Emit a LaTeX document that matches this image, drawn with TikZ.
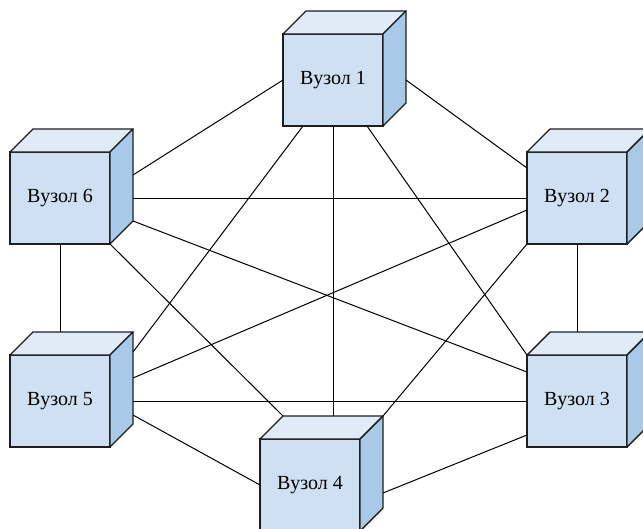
\documentclass[tikz,border=0pt]{standalone}
\usepackage{fontspec}
\setmainfont{Liberation Serif}
\usepackage{tikz}

\definecolor{vfront}{RGB}{207,224,243}
\definecolor{vtop}{RGB}{225,235,248}
\definecolor{vside}{RGB}{168,202,232}
\definecolor{vedge}{RGB}{30,30,30}

\tikzset{
  vuzol/.style={draw=vedge, line width=1.4pt, fill=vfront, rectangle,
    minimum width=100pt, minimum height=92pt, outer sep=0pt, inner sep=0pt,
    font=\fontsize{20}{24}\selectfont},
  link/.style={draw=black, line width=1pt}
}

\begin{document}
\begin{tikzpicture}[x=1pt, y=-1pt]
    \useasboundingbox (0,0) rectangle (643,528);
    \clip (0,0) rectangle (643,528);

    \node [vuzol] (n1) at (333 , 80) {Вузол 1};
    \node [vuzol] (n2) at (577 , 198) {Вузол 2};
    \node [vuzol] (n3) at (577 , 401) {Вузол 3};
    \node [vuzol] (n4) at (310 , 485) {Вузол 4};
    \node [vuzol] (n5) at (60 , 401) {Вузол 5};
    \node [vuzol] (n6) at (60 , 198) {Вузол 6};

    \foreach \n in {n1,n2,n3,n4,n5,n6}{
      \draw[draw=vedge, line width=1.4pt, line join=round, fill=vtop]
        (\n.north west) -- ++(23,-23) -- ++(100,0) -- (\n.north east) -- cycle;
      \draw[draw=vedge, line width=1.4pt, line join=round, fill=vside]
        (\n.north east) -- ++(23,-23) -- ++(0,92) -- (\n.south east) -- cycle;
    }

 \path[link]
      (n1.west) edge ([xshift=23pt,yshift=23pt]n6.east)
      ([xshift=23pt]n1.east) edge ([yshift=30pt]n2.west)
      ([xshift=-30pt]n1.south) edge ([xshift=23pt,yshift=3pt]n5.north east)
      (n1.south) edge ([xshift=23pt,yshift=23pt]n4.north)
      ([xshift=34pt]n1.south) edge (n3.north west)
      ([xshift=23pt]n6.east) edge (n2.west)
      ([xshift=23pt,yshift=23pt]n6.south east) edge ([yshift=29pt]n3.west)
      (n6.south east) edge ([xshift=23pt,yshift=23pt]n4.north west)
      (n6.south) edge ([yshift=23pt]n5.north)
      (n2.south) edge ([yshift=23pt]n3.north)
      ([yshift=-12pt]n2.west) edge ([xshift=23pt,yshift=23pt]n5.east)
      (n2.south west) edge ([xshift=23pt,yshift=23pt]n4.north east)
      ([xshift=23pt]n5.east) edge (n3.west)
      ([xshift=23pt,yshift=-14pt]n5.east) edge (n4.west)
      ([xshift=23pt,yshift=-8pt]n4.east) edge ([yshift=-34pt]n3.west);
                        \end{tikzpicture}
\end{document}
